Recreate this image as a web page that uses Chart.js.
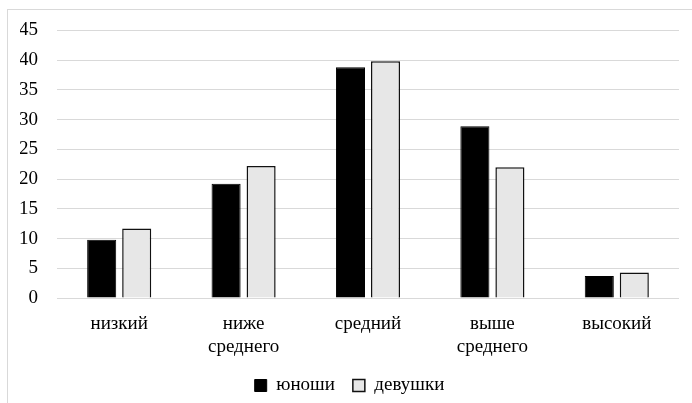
<!DOCTYPE html>
<html>
<head>
<meta charset="utf-8">
<script src="https://cdn.jsdelivr.net/npm/chart.js@4"></script>
<style>
    body { margin: 0; background: #fff; overflow: hidden; }
    #wrap { position: relative; width: 692px; height: 403px; }
    #frame { position: absolute; left: 7px; top: 9px; width: 700px; height: 420px; border: 1px solid #d9d9d9; }
    #chart { position: absolute; left: 0; top: 0; }
</style>
</head>
<body>
<div id="wrap">
    <div id="frame"></div>
    <canvas id="chart" width="692" height="405"></canvas>
</div>
<script>
    const categories = ["низкий", ["ниже", "среднего"], "средний", ["выше", "среднего"], "высокий"];
    const boys = [9.8, 19.2, 38.8, 28.9, 3.7];
    const girls = [11.7, 22.2, 39.8, 22.0, 4.3];
    const yTicks = { min: 0, max: 45, step: 5 };

    Chart.defaults.font.family = "'Liberation Serif', 'Times New Roman', serif";
    Chart.defaults.font.size = 19;
    Chart.defaults.color = "#000";

    function draw() {
        new Chart(document.getElementById("chart"), {
            type: "bar",
            data: {
                labels: categories,
                datasets: [{
                    label: "юноши",
                    data: boys,
                    backgroundColor: "#000",
                    borderColor: "#000",
                    borderWidth: 1
                }, {
                    label: "девушки",
                    data: girls,
                    backgroundColor: "#e7e7e7",
                    borderColor: "#111",
                    borderWidth: 1.5
                }]
            },
            options: {
                responsive: false,
                animation: false,
                categoryPercentage: 0.563,
                barPercentage: 0.83,
                layout: { padding: { left: 20, right: 13, top: 29, bottom: 0 } },
                plugins: {
                    tooltip: { enabled: false },
                    legend: {
                        position: "bottom",
                        labels: { boxWidth: 12, boxHeight: 12, padding: 18 }
                    }
                },
                scales: {
                    x: {
                        grid: { display: false },
                        border: { display: false },
                        ticks: { maxRotation: 0, padding: 7 },
                        afterFit: s => { s.height = 60; }
                    },
                    y: {
                        min: yTicks.min,
                        max: yTicks.max,
                        grid: { color: "#d9d9d9", lineWidth: 1, drawTicks: false },
                        border: { display: false },
                        ticks: { stepSize: yTicks.step, padding: 19 },
                        afterFit: s => { s.width = 37; }
                    }
                }
            }
        });
    }

    document.fonts.ready.then(draw);
</script>
</body>
</html>
